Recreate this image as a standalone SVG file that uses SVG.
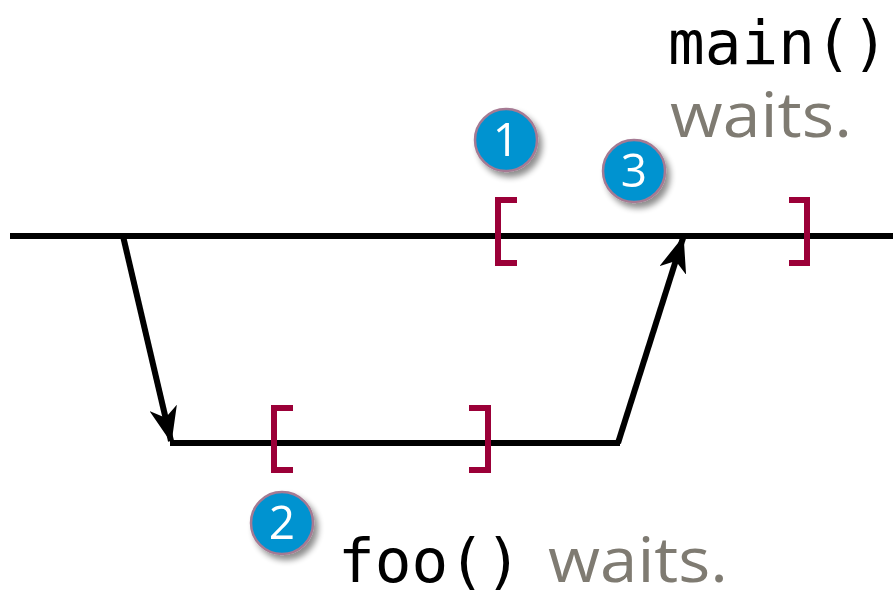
<svg xmlns="http://www.w3.org/2000/svg" width="893" height="599" viewBox="0 0 893 599">
<style>
.line{stroke:#000;stroke-width:6;fill:none}
.br{stroke:#9b0038;stroke-width:6;fill:none}
.badge{fill:#0093d0;stroke:#a57a93;stroke-width:2.5}
.num{font-family:"Open Sans","DejaVu Sans",sans-serif;font-size:46px;fill:#fff;text-anchor:middle}
.code{font-family:"DejaVu Sans Mono",monospace;font-size:61px;fill:#000}
.grey{font-family:"Open Sans","DejaVu Sans",sans-serif;font-size:62px;fill:#7f7b72}
</style>
<defs>
<marker id="ah" viewBox="0 0 36 28" refX="34" refY="14" markerWidth="36" markerHeight="28" markerUnits="userSpaceOnUse" orient="auto">
<path d="M0,0 L36,14 L0,28 L10,14 Z" fill="#000"/>
</marker>
<filter id="sh" x="-30%" y="-30%" width="170%" height="170%">
<feGaussianBlur in="SourceAlpha" stdDeviation="3"/>
<feOffset dx="4" dy="5" result="b"/>
<feComponentTransfer><feFuncA type="linear" slope="0.45"/></feComponentTransfer>
<feMerge><feMergeNode/><feMergeNode in="SourceGraphic"/></feMerge>
</filter>
</defs>
<g id="main-line"><line class="line" x1="10" y1="236" x2="893" y2="236"/></g>
<g id="foo-line"><line class="line" x1="170" y1="443" x2="620" y2="443"/></g>
<g id="connectors">
<line class="line" x1="123" y1="236" x2="171" y2="441" marker-end="url(#ah)"/>
<line class="line" x1="618" y1="443" x2="683" y2="238" marker-end="url(#ah)"/>
</g>
<g id="brackets">
<path class="br" d="M517,200 H498 V263 H517"/>
<path class="br" d="M789,200 H807 V263 H789"/>
<path class="br" d="M293,408 H274 V470 H293"/>
<path class="br" d="M469,408 H488 V470 H469"/>
</g>
<g id="badge1" filter="url(#sh)"><circle class="badge" cx="506" cy="140" r="31"/><text class="num" x="506" y="156">1</text></g>
<g id="badge3" filter="url(#sh)"><circle class="badge" cx="634" cy="171" r="31"/><text class="num" x="634" y="187">3</text></g>
<g id="badge2" filter="url(#sh)"><circle class="badge" cx="282" cy="523" r="31"/><text class="num" x="282" y="539">2</text></g>
<g id="label-main">
<text class="code" x="668" y="64">main()</text>
<text class="grey" x="670" y="137" textLength="182" lengthAdjust="spacingAndGlyphs">waits.</text>
</g>
<g id="label-foo">
<text class="code" x="338" y="582">foo()</text>
<text class="grey" x="548" y="582" textLength="180" lengthAdjust="spacingAndGlyphs">waits.</text>
</g>
</svg>
